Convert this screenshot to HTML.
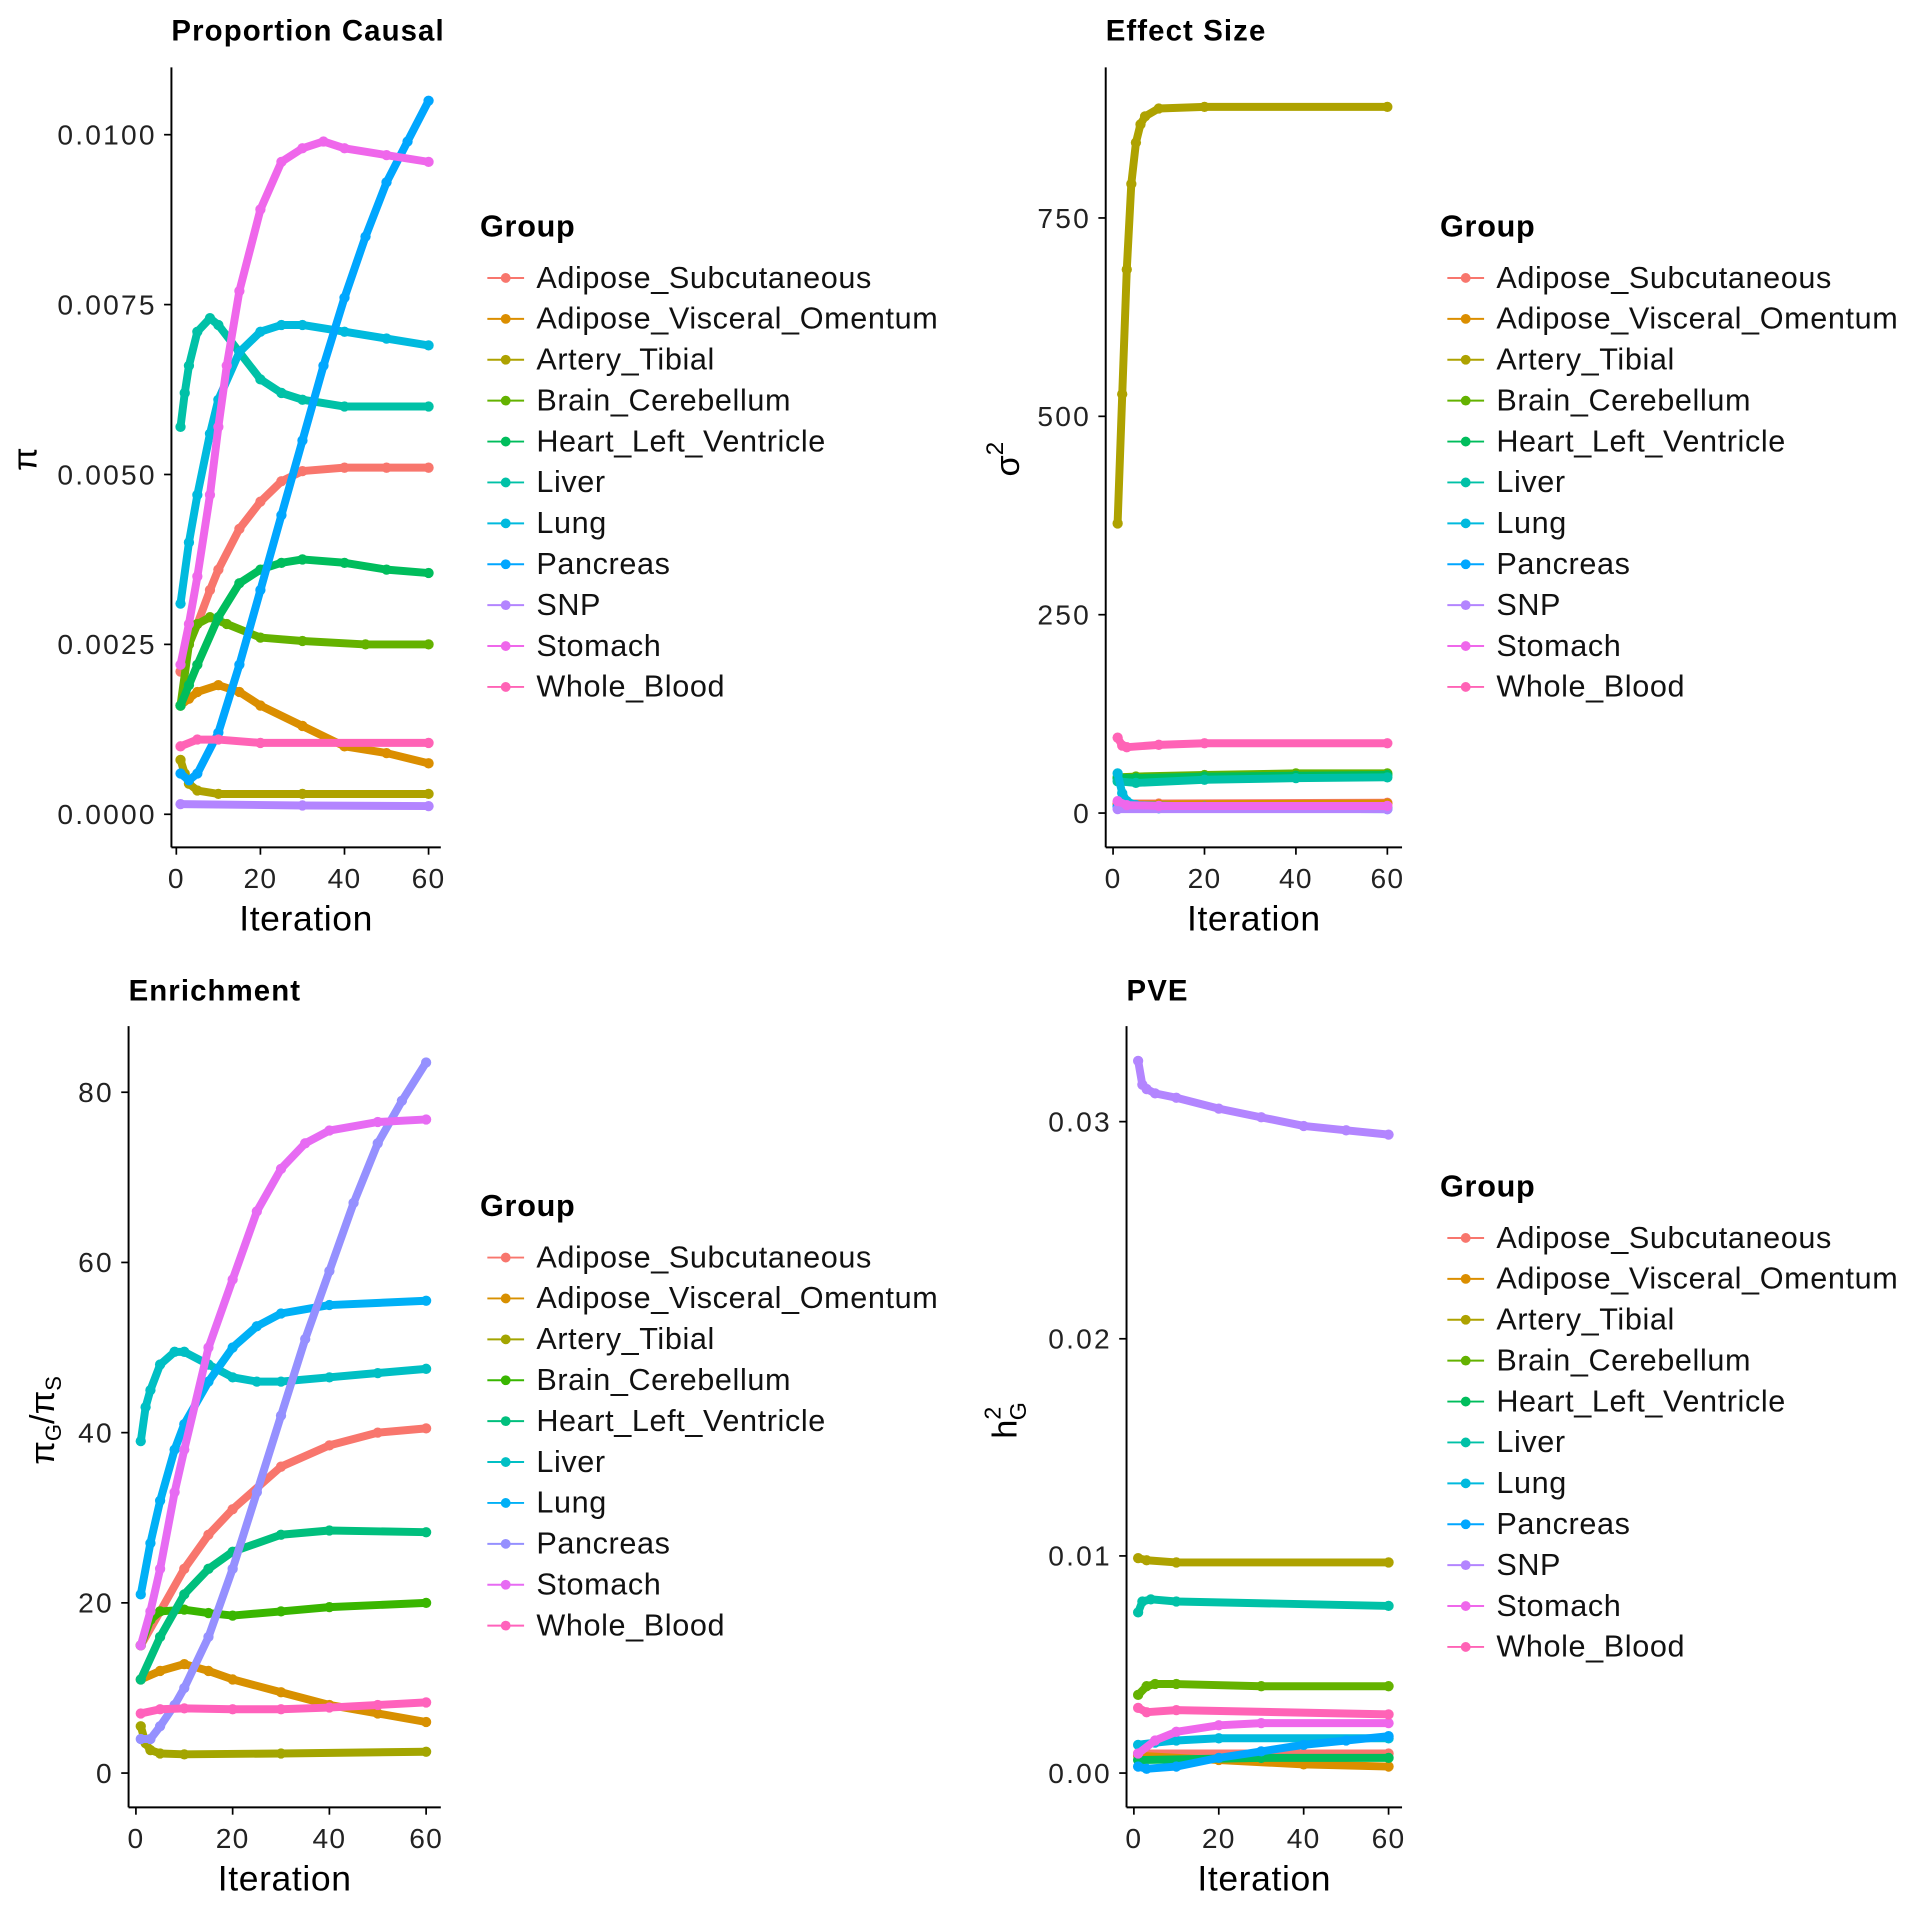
<!DOCTYPE html>
<html><head><meta charset="utf-8"><style>
html,body{margin:0;padding:0;background:#fff}
svg{display:block;font-family:"Liberation Sans",Arial,sans-serif}
</style></head><body>
<svg id="chart" width="1920" height="1920" viewBox="0 0 1568 1568" xmlns="http://www.w3.org/2000/svg"></svg>
<script>
// ---- shared data ----
const groups11 = ["Adipose_Subcutaneous","Adipose_Visceral_Omentum","Artery_Tibial","Brain_Cerebellum","Heart_Left_Ventricle","Liver","Lung","Pancreas","SNP","Stomach","Whole_Blood"];
const colors11 = ["#F8766D","#DB8E00","#AEA200","#64B200","#00BD5C","#00C1A7","#00BADE","#00A6FF","#B385FF","#EF67EB","#FF63B6"];
const groups10 = ["Adipose_Subcutaneous","Adipose_Visceral_Omentum","Artery_Tibial","Brain_Cerebellum","Heart_Left_Ventricle","Liver","Lung","Pancreas","Stomach","Whole_Blood"];
const colors10 = ["#F8766D","#D89000","#A3A500","#39B600","#00BF7D","#00BFC4","#00B0F6","#9590FF","#E76BF3","#FF62BC"];
const xTicks = [0,20,40,60];

// ---- Panel 1: Proportion Causal (pi) ----  [iteration, value] pairs
const piAdiposeSub = [[1,0.0021],[3,0.0025],[5,0.0028],[8,0.0033],[10,0.0036],[15,0.0042],[20,0.0046],[25,0.0049],[30,0.00505],[40,0.0051],[50,0.0051],[60,0.0051]];
const piAdiposeVisc = [[1,0.0016],[3,0.0017],[5,0.0018],[10,0.0019],[15,0.0018],[20,0.0016],[30,0.0013],[40,0.0010],[50,0.0009],[60,0.00075]];
const piArtery = [[1,0.0008],[2,0.0006],[3,0.00045],[5,0.00035],[10,0.0003],[30,0.0003],[60,0.0003]];
const piBrain = [[1,0.0016],[3,0.0025],[5,0.0028],[8,0.0029],[12,0.0028],[20,0.0026],[30,0.00255],[45,0.0025],[60,0.0025]];
const piHeart = [[1,0.0016],[3,0.0019],[5,0.0022],[10,0.0029],[15,0.0034],[20,0.0036],[25,0.0037],[30,0.00375],[40,0.0037],[50,0.0036],[60,0.00355]];
const piLiver = [[1,0.0057],[2,0.0062],[3,0.0066],[5,0.0071],[8,0.0073],[10,0.0072],[15,0.0068],[20,0.0064],[25,0.0062],[30,0.0061],[40,0.0060],[60,0.0060]];
const piLung = [[1,0.0031],[3,0.0040],[5,0.0047],[8,0.0056],[10,0.0061],[15,0.0068],[20,0.0071],[25,0.0072],[30,0.0072],[40,0.0071],[50,0.0070],[60,0.0069]];
const piPancreas = [[1,0.0006],[3,0.0005],[5,0.0006],[10,0.0012],[15,0.0022],[20,0.0033],[25,0.0044],[30,0.0055],[35,0.0066],[40,0.0076],[45,0.0085],[50,0.0093],[55,0.0099],[60,0.0105]];
const piSNP = [[1,0.00015],[30,0.00013],[60,0.00012]];
const piStomach = [[1,0.0022],[3,0.0028],[5,0.0035],[8,0.0047],[10,0.0057],[12,0.0066],[15,0.0077],[20,0.0089],[25,0.0096],[30,0.0098],[35,0.0099],[40,0.0098],[50,0.0097],[60,0.0096]];
const piBlood = [[1,0.0010],[5,0.0011],[10,0.0011],[20,0.00105],[60,0.00105]];
const piSeries = [piAdiposeSub,piAdiposeVisc,piArtery,piBrain,piHeart,piLiver,piLung,piPancreas,piSNP,piStomach,piBlood];
const piTicks = [0,0.0025,0.005,0.0075,0.01];
const piTickLabels = ["0.0000","0.0025","0.0050","0.0075","0.0100"];

// ---- Panel 2: Effect Size (sigma^2) ----
const sgAdiposeSub = [[1,12],[10,12],[60,13]];
const sgAdiposeVisc = [[1,11],[10,11],[60,12]];
const sgArtery = [[1,365],[2,528],[3,685],[4,793],[5,845],[6,868],[7,878],[10,888],[20,890],[60,890]];
const sgBrain = [[1,45],[5,46],[20,48],[40,50],[60,50]];
const sgHeart = [[1,44],[5,44],[20,46],[40,47],[60,48]];
const sgLiver = [[1,40],[5,38],[20,42],[40,44],[60,45]];
const sgLung = [[1,50],[2,25],[3,15],[5,10],[20,8],[60,7]];
const sgPancreas = [[1,8],[10,6],[60,5]];
const sgSNP = [[1,5],[60,5]];
const sgStomach = [[1,15],[3,10],[10,9],[60,9]];
const sgBlood = [[1,95],[2,85],[3,83],[10,86],[20,88],[60,88]];
const sgSeries = [sgAdiposeSub,sgAdiposeVisc,sgArtery,sgBrain,sgHeart,sgLiver,sgLung,sgPancreas,sgSNP,sgStomach,sgBlood];
const sgTicks = [0,250,500,750];
const sgTickLabels = ["0","250","500","750"];

// ---- Panel 3: Enrichment ----
const enAdiposeSub = [[1,15],[5,19],[10,24],[15,28],[20,31],[30,36],[40,38.5],[50,40],[60,40.5]];
const enAdiposeVisc = [[1,11],[5,12],[10,12.8],[15,12],[20,11],[30,9.5],[40,8],[50,7],[60,6]];
const enArtery = [[1,5.5],[2,3.5],[3,2.7],[5,2.3],[10,2.2],[30,2.3],[60,2.5]];
const enBrain = [[1,15],[3,18],[5,19],[10,19.2],[15,18.8],[20,18.5],[30,19],[40,19.5],[60,20]];
const enHeart = [[1,11],[5,16],[10,21],[15,24],[20,26],[30,28],[40,28.5],[60,28.3]];
const enLiver = [[1,39],[2,43],[3,45],[5,48],[8,49.5],[10,49.5],[15,48],[20,46.5],[25,46],[30,46],[40,46.5],[50,47],[60,47.5]];
const enLung = [[1,21],[3,27],[5,32],[8,38],[10,41],[15,46],[20,50],[25,52.5],[30,54],[40,55],[60,55.5]];
const enPancreas = [[1,4],[3,4],[5,5.5],[8,8],[10,10],[15,16],[20,24],[25,33],[30,42],[35,51],[40,59],[45,67],[50,74],[55,79],[60,83.5]];
const enStomach = [[1,15],[3,19],[5,24],[8,33],[10,38],[15,50],[20,58],[25,66],[30,71],[35,74],[40,75.5],[50,76.5],[60,76.8]];
const enBlood = [[1,7],[5,7.5],[10,7.6],[20,7.5],[30,7.5],[40,7.7],[50,8],[60,8.3]];
const enSeries = [enAdiposeSub,enAdiposeVisc,enArtery,enBrain,enHeart,enLiver,enLung,enPancreas,enStomach,enBlood];
const enTicks = [0,20,40,60,80];
const enTickLabels = ["0","20","40","60","80"];

// ---- Panel 4: PVE ----
const pvAdiposeSub = [[1,0.0009],[30,0.0009],[60,0.0009]];
const pvAdiposeVisc = [[1,0.0008],[20,0.0006],[40,0.0004],[60,0.0003]];
const pvArtery = [[1,0.0099],[3,0.0098],[10,0.0097],[60,0.0097]];
const pvBrain = [[1,0.0036],[3,0.0040],[5,0.0041],[10,0.0041],[30,0.0040],[60,0.0040]];
const pvHeart = [[1,0.0006],[30,0.0007],[60,0.0007]];
const pvLiver = [[1,0.0074],[2,0.0079],[4,0.0080],[10,0.0079],[60,0.0077]];
const pvLung = [[1,0.0013],[5,0.0014],[10,0.0015],[20,0.0016],[60,0.0016]];
const pvPancreas = [[1,0.0003],[3,0.0002],[10,0.0003],[20,0.0007],[30,0.0010],[40,0.0013],[50,0.0015],[60,0.0017]];
const pvSNP = [[1,0.0328],[2,0.0317],[3,0.0315],[5,0.0313],[10,0.0311],[20,0.0306],[30,0.0302],[40,0.0298],[50,0.0296],[60,0.0294]];
const pvStomach = [[1,0.0009],[5,0.0015],[10,0.0019],[20,0.0022],[30,0.0023],[60,0.0023]];
const pvBlood = [[1,0.0030],[3,0.0028],[10,0.0029],[60,0.0027]];
const pvSeries = [pvAdiposeSub,pvAdiposeVisc,pvArtery,pvBrain,pvHeart,pvLiver,pvLung,pvPancreas,pvSNP,pvStomach,pvBlood];
const pvTicks = [0,0.01,0.02,0.03];
const pvTickLabels = ["0.00","0.01","0.02","0.03"];

const NS = "http://www.w3.org/2000/svg";
const svg = document.getElementById("chart");
function mk(tag, attrs, parent){
  const e = document.createElementNS(NS, tag);
  for (const k in attrs) e.setAttribute(k, attrs[k]);
  (parent||svg).appendChild(e);
  return e;
}
function txt(parent, x, y, s, size, opts){
  const t = mk("text", Object.assign({x:x, y:y, "font-size":size, fill:"#000"}, opts||{}), parent);
  t.textContent = s;
  return t;
}

function panel(cfg){
  const g = mk("g", {});
  
  
  const sx = v => cfg.x0 + (v - 0) * (cfg.x60 - cfg.x0) / 60;
  const sy = v => cfg.yZero - (v - cfg.yv0) * (cfg.yZero - cfg.yTop) / (cfg.yv1 - cfg.yv0);
  const tt = txt(g, cfg.titleX, cfg.titleY, cfg.title, 24, {"font-weight":"bold", "letter-spacing":"0.9"});
  
  
  cfg.series.forEach((s, i) => {
    const sg = mk("g", {}, g);
    
    
    const pts = s.map(p => sx(p[0]).toFixed(1) + "," + sy(p[1]).toFixed(1)).join(" ");
    mk("polyline", {points: pts, fill:"none", stroke: cfg.colors[i], "stroke-width": 6.5, "stroke-linejoin":"round", "stroke-linecap":"round"}, sg);
    s.forEach(p => {
      const c = mk("circle", {cx: sx(p[0]), cy: sy(p[1]), r: 4.2, fill: cfg.colors[i]}, sg);
      
      
    });
  });
  const ax = mk("line", {x1: cfg.axX, y1: cfg.axTop, x2: cfg.axX, y2: cfg.axY, stroke:"#000", "stroke-width":1.6}, g);
  
  
  const axx = mk("line", {x1: cfg.axX, y1: cfg.axY, x2: cfg.axRight, y2: cfg.axY, stroke:"#000", "stroke-width":1.6}, g);
  
  
  cfg.yTicks.forEach((v, i) => {
    const y = sy(v);
    mk("line", {x1: cfg.axX - 6, y1: y, x2: cfg.axX, y2: y, stroke:"#000", "stroke-width":1.4}, g);
    const l = txt(g, cfg.axX - 12, y + 8, cfg.yTickLabels[i], 23, {"text-anchor":"end", fill:"#222", "letter-spacing":"1.8"});
    
    
  });
  xTicks.forEach(v => {
    const x = sx(v);
    mk("line", {x1: x, y1: cfg.axY, x2: x, y2: cfg.axY + 6, stroke:"#000", "stroke-width":1.4}, g);
    const l = txt(g, x, cfg.axY + 33, String(v), 23, {"text-anchor":"middle", fill:"#222", "letter-spacing":"1"});
    
    
  });
  const xt = txt(g, (cfg.axX + cfg.axRight)/2, cfg.axY + 68, "Iteration", 29, {"text-anchor":"middle", "letter-spacing":"0.5"});
  
  
  const yt = mk("g", {transform: "translate(" + cfg.ytX + "," + cfg.ytY + ") rotate(-90)"}, g);
  
  
  yt.innerHTML = cfg.ytHTML;
  const lg = mk("g", {}, g);
  
  
  txt(lg, cfg.lgX, cfg.lgY, "Group", 25, {"font-weight":"bold", "letter-spacing":"0.6"});
  cfg.groups.forEach((name, i) => {
    const y = cfg.lgY + 42 + i * 33.4;
    const e = mk("g", {}, lg);
    
    
    mk("line", {x1: cfg.lgX + 6, y1: y - 8, x2: cfg.lgX + 36, y2: y - 8, stroke: cfg.colors[i], "stroke-width": 1.6}, e);
    mk("circle", {cx: cfg.lgX + 21, cy: y - 8, r: 4, fill: cfg.colors[i]}, e);
    txt(e, cfg.lgX + 46, y, name, 25, {fill:"#111", "letter-spacing":"0.5"});
  });
}

panel({name:"proportion-causal-panel", title:"Proportion Causal", titleX:140, titleY:33,
  series: piSeries, groups: groups11, colors: colors11,
  x0:144, x60:350, yZero:665, yTop:110, yv0:0, yv1:0.01,
  axX:140, axTop:55, axY:692, axRight:360,
  yTicks: piTicks, yTickLabels: piTickLabels,
  ytX:30, ytY:375, ytHTML:'<text x="0" y="0" text-anchor="middle" font-size="28" font-family="Liberation Sans,sans-serif">π</text>',
  lgX:392, lgY:193});

panel({name:"effect-size-panel", title:"Effect Size", titleX:903, titleY:33,
  series: sgSeries, groups: groups11, colors: colors11,
  x0:909, x60:1133, yZero:664, yTop:178, yv0:0, yv1:750,
  axX:903, axTop:55, axY:692, axRight:1145,
  yTicks: sgTicks, yTickLabels: sgTickLabels,
  ytX:832, ytY:375, ytHTML:'<text x="0" y="0" text-anchor="middle" font-size="28" font-family="Liberation Sans,sans-serif">σ<tspan font-size="20" dy="-13">2</tspan></text>',
  lgX:1176, lgY:193});

panel({name:"enrichment-panel", title:"Enrichment", titleX:105, titleY:817,
  series: enSeries, groups: groups10, colors: colors10,
  x0:111, x60:348, yZero:1448, yTop:892, yv0:0, yv1:80,
  axX:105, axTop:838, axY:1476, axRight:360,
  yTicks: enTicks, yTickLabels: enTickLabels,
  ytX:44, ytY:1160, ytHTML:'<text x="0" y="0" text-anchor="middle" font-size="28" font-family="Liberation Sans,sans-serif">π<tspan font-size="18" dy="6">G</tspan><tspan dy="-6">/π</tspan><tspan font-size="18" dy="6">S</tspan></text>',
  lgX:392, lgY:993});

panel({name:"pve-panel", title:"PVE", titleX:920, titleY:817,
  series: pvSeries, groups: groups11, colors: colors11,
  x0:926, x60:1134, yZero:1448, yTop:916, yv0:0, yv1:0.03,
  axX:920, axTop:838, axY:1476, axRight:1145,
  yTicks: pvTicks, yTickLabels: pvTickLabels,
  ytX:830, ytY:1160, ytHTML:'<text x="0" y="0" text-anchor="middle" font-size="28" font-family="Liberation Sans,sans-serif">h<tspan font-size="19" dy="-13">2</tspan><tspan font-size="19" dx="-11" dy="21">G</tspan></text>',
  lgX:1176, lgY:977});
</script>
</body></html>
